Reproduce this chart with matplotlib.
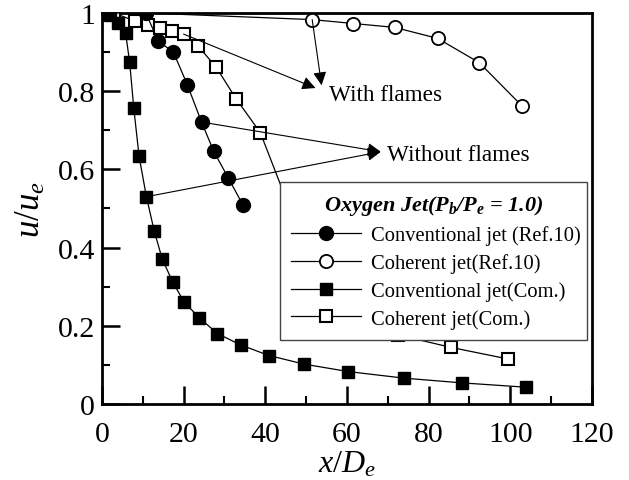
import matplotlib
matplotlib.use("Agg")
import matplotlib.pyplot as plt
from matplotlib.ticker import MultipleLocator, FuncFormatter

plt.rcParams['font.family'] = ['Liberation Serif', 'DejaVu Serif']
plt.rcParams['mathtext.fontset'] = 'custom'
plt.rcParams['mathtext.rm'] = 'Liberation Serif'
plt.rcParams['mathtext.it'] = 'Liberation Serif:italic'
plt.rcParams['mathtext.bf'] = 'Liberation Serif:bold:italic'

# Conventional jet (Ref.10) - filled circles
conv_ref_x = [0, 10.75, 13.8, 17.5, 20.9, 24.4, 27.4, 30.9, 34.6]
conv_ref_y = [1.0, 1.0, 0.928, 0.900, 0.817, 0.721, 0.646, 0.579, 0.508]

# Coherent jet (Ref.10) - open circles
coh_ref_x = [0, 10.75, 51.5, 61.6, 71.7, 82.2, 92.4, 102.9]
coh_ref_y = [1.0, 1.0, 0.983, 0.973, 0.963, 0.935, 0.873, 0.762]

# Conventional jet (Com.) - filled squares
conv_com_x = [0, 2.0, 4.0, 5.8, 6.8, 7.8, 9.1, 10.9, 12.8, 14.8, 17.3, 20.1,
              23.9, 28.3, 34.0, 40.9, 49.5, 60.3, 74.1, 88.2, 103.8]
conv_com_y = [1.0, 0.995, 0.975, 0.949, 0.874, 0.757, 0.634, 0.530, 0.443,
              0.370, 0.313, 0.261, 0.220, 0.180, 0.151, 0.124, 0.102, 0.083,
              0.066, 0.054, 0.043]

# Coherent jet (Com.) - open squares
coh_com_x = [0, 3.0, 8.1, 11.3, 14.2, 17.1, 20.0, 23.6, 28.0, 32.9, 38.8,
             46.0, 58.0, 72.4, 85.4, 99.5]
coh_com_y = [1.0, 1.0, 0.979, 0.970, 0.962, 0.955, 0.946, 0.915, 0.861,
             0.780, 0.694, 0.50, 0.30, 0.177, 0.145, 0.115]

labels = ["Conventional jet (Ref.10)", "Coherent jet(Ref.10)",
          "Conventional jet(Com.)", "Coherent jet(Com.)"]

fig = plt.figure(figsize=(6.29, 4.81), dpi=100)
ax = fig.add_axes([0.162, 0.158, 0.779, 0.813])

lw = 0.9
ax.plot(conv_ref_x, conv_ref_y, '-', color='black', lw=lw, marker='o', ms=10,
        mfc='black', mec='black', label=labels[0], zorder=4)
ax.plot(coh_ref_x, coh_ref_y, '-', color='black', lw=lw, marker='o', ms=9.5,
        mfc='white', mec='black', mew=1.3, label=labels[1], zorder=3)
ax.plot(conv_com_x, conv_com_y, '-', color='black', lw=lw, marker='s', ms=9,
        mfc='black', mec='black', label=labels[2], zorder=4)
ax.plot(coh_com_x, coh_com_y, '-', color='black', lw=lw, marker='s', ms=8.5,
        mfc='white', mec='black', mew=1.5, label=labels[3], zorder=3)

ax.set_xlim(0, 120)
ax.set_ylim(0, 1)
ax.xaxis.set_major_locator(MultipleLocator(20))
ax.xaxis.set_minor_locator(MultipleLocator(10))
ax.yaxis.set_major_locator(MultipleLocator(0.2))
ax.yaxis.set_minor_locator(MultipleLocator(0.1))
ax.yaxis.set_major_formatter(FuncFormatter(lambda v, p: '%g' % round(v, 3)))
ax.tick_params(which='major', direction='in', length=13, width=1.8,
               labelsize=21.5, top=False, right=False)
ax.tick_params(axis='x', which='major', pad=12)
ax.tick_params(axis='y', which='major', pad=5)
ax.tick_params(which='minor', direction='in', length=6, width=1.5,
               top=False, right=False)
for s in ax.spines.values():
    s.set_linewidth(2)

ax.set_xlabel(r'$x/D_e$', fontsize=23, labelpad=2)
ax.set_ylabel(r'$u/u_e$', fontsize=25, labelpad=7)

arrow = dict(arrowstyle='-|>', color='black', lw=0.8, mutation_scale=20,
             shrinkA=0, shrinkB=0)
ax.annotate('', xy=(52.3, 0.808), xytext=(20.0, 0.946), arrowprops=arrow, zorder=5)
ax.annotate('', xy=(53.8, 0.815), xytext=(51.5, 0.983), arrowprops=arrow, zorder=5)
ax.annotate('', xy=(68.3, 0.645), xytext=(24.4, 0.721), arrowprops=arrow, zorder=5)
ax.annotate('', xy=(68.3, 0.645), xytext=(10.9, 0.530), arrowprops=arrow, zorder=5)
ax.text(55.7, 0.792, 'With flames', fontsize=16.7, va='center', ha='left')
ax.text(69.9, 0.639, 'Without flames', fontsize=16.7, va='center', ha='left')

leg = ax.legend(loc='upper left', bbox_to_anchor=(0.363, 0.179, 0.627, 0.389),
                mode='expand', fontsize=14.8,
                title=r'Oxygen Jet($\mathbf{P_b}$/$\mathbf{P_e}$ = 1.0)',
                title_fontproperties={'size': 16, 'weight': 'bold', 'style': 'italic'},
                handlelength=3.4, handletextpad=0.5, labelspacing=0.39,
                borderpad=0.55, fancybox=False, framealpha=1, edgecolor='#444444',
                borderaxespad=0)
leg.get_frame().set_linewidth(1.0)
leg.set_zorder(6)

fig.savefig('out.png', dpi=100)
